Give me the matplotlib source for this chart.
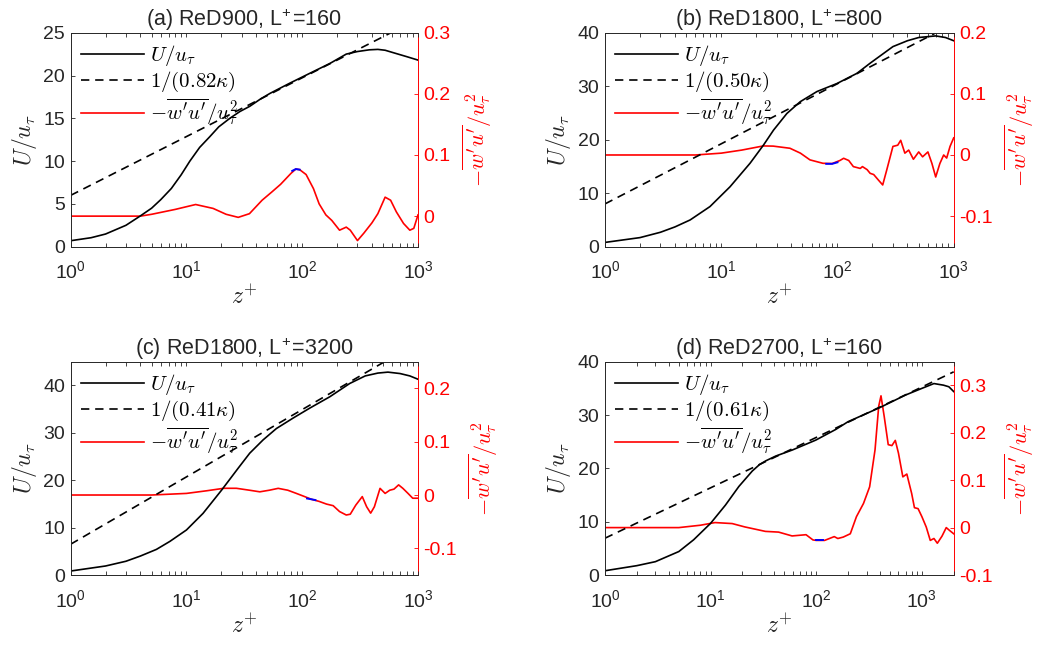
import numpy as np
import matplotlib
matplotlib.use('Agg')
import matplotlib.pyplot as plt
from matplotlib.ticker import FixedLocator, FixedFormatter, LogLocator, NullFormatter
from matplotlib.lines import Line2D

plt.rcParams['font.family'] = ['Liberation Sans', 'DejaVu Sans']
plt.rcParams['mathtext.fontset'] = 'cm'
plt.rcParams['axes.unicode_minus'] = False

# ---------------- data ----------------
titles = [r'(a) ReD900, L$^{\mathregular{+}}$=160',
          r'(b) ReD1800, L$^{\mathregular{+}}$=800',
          r'(c) ReD1800, L$^{\mathregular{+}}$=3200',
          r'(d) ReD2700, L$^{\mathregular{+}}$=160']
log_labels = [r'$1/(0.82\kappa)$', r'$1/(0.50\kappa)$', r'$1/(0.41\kappa)$', r'$1/(0.61\kappa)$']

# panel (a)
a_zU = [1, 1.5, 2, 3, 4, 5, 6, 7.4, 9, 10.7, 13, 15.9, 19, 23.7, 29, 35.2, 43, 52.5, 78, 116, 173, 240, 300, 380, 450, 520, 600, 800, 1000]
a_U  = [0.7, 1.05, 1.48, 2.5, 3.6, 4.5, 5.5, 6.8, 8.4, 10.0, 11.6, 12.85, 14.0, 15.0, 15.8, 16.4, 17.2, 17.9, 19.1, 20.25, 21.4, 22.5, 22.8, 23.0, 23.05, 22.95, 22.7, 22.2, 21.8]
a_zL = [1, 1000]
a_L  = [6.0, 26.6]
a_zR = [1, 2, 4, 5, 8, 12, 17, 22, 28, 35, 45, 55, 65, 80, 88, 95, 108, 125, 140, 160, 180, 210, 240, 260, 300, 340, 400, 450, 520, 580, 650, 750, 850, 920, 1000]
a_R  = [0, 0, 0, 0.003, 0.011, 0.019, 0.0126, 0.003, -0.002, 0.004, 0.026, 0.040, 0.052, 0.070, 0.077, 0.076, 0.068, 0.045, 0.020, 0.002, -0.007, -0.023, -0.018, -0.023, -0.040, -0.028, -0.011, 0.004, 0.031, 0.026, 0.007, -0.012, -0.023, -0.020, 0.002]
a_zB = [82, 88, 95]
a_B  = [0.074, 0.077, 0.076]

# panel (b)
b_zU = [1, 2, 3, 4, 5.4, 8, 11.9, 17.7, 23.1, 28.2, 36.7, 47.8, 66.6, 99, 147, 191, 300, 400, 500, 700, 850, 1000]
b_U  = [0.8, 1.7, 2.7, 3.7, 5.0, 7.5, 11.2, 15.6, 19.0, 21.8, 24.9, 27.1, 29.0, 30.5, 32.4, 34.3, 37.4, 38.5, 39.1, 39.4, 39.1, 38.5]
b_zL = [1, 1000]
b_L  = [8.0, 41.7]
b_zR = [1, 3, 6, 10, 15, 23, 28, 39, 48, 58, 75, 90, 105, 113, 125, 137, 157, 164, 180, 191, 205, 225, 245, 265, 300, 330, 350, 380, 410, 450, 500, 540, 600, 650, 700, 760, 820, 870, 930, 1000]
b_R  = [0, 0, 0, 0.003, 0.008, 0.0148, 0.0145, 0.011, 0.003, -0.008, -0.0136, -0.014, -0.009, -0.0054, -0.009, -0.019, -0.022, -0.019, -0.024, -0.030, -0.032, -0.041, -0.049, -0.025, 0.014, 0.016, 0.024, 0.003, 0.008, -0.007, 0.005, -0.003, 0.005, -0.014, -0.036, -0.014, 0.0, -0.005, 0.014, 0.028]
b_zB = [80, 90, 100]
b_R_blue = [-0.0145, -0.0145, -0.012]

# panel (c)
c_zU = [1, 2, 3, 4, 5.5, 7.2, 10, 13.9, 20.1, 27.9, 35.2, 45.9, 59.8, 83.3, 116, 173, 257, 350, 450, 550, 700, 850, 1000]
c_U  = [0.84, 1.9, 2.9, 4.0, 5.4, 7.1, 9.5, 13.0, 17.9, 22.5, 25.7, 28.5, 30.9, 33.1, 35.2, 37.6, 40.4, 42.0, 42.6, 42.8, 42.5, 42.0, 41.3]
c_zL = [1, 1000]
c_L  = [6.5, 49.1]
c_zR = [1, 3, 5, 10, 15, 21, 27, 35, 43, 52, 62, 75, 89, 105, 120, 140, 162, 185, 210, 240, 260, 290, 330, 360, 390, 420, 470, 520, 570, 620, 680, 740, 820, 900, 1000]
c_R  = [0, 0, 0, 0.003, 0.008, 0.0126, 0.0126, 0.009, 0.006, 0.009, 0.0125, 0.009, 0.003, -0.003, -0.008, -0.012, -0.017, -0.020, -0.031, -0.0375, -0.036, -0.019, -0.003, -0.022, -0.034, -0.022, 0.0125, 0.003, 0.009, 0.011, 0.019, 0.0125, 0.003, -0.006, -0.006]
c_zB = [110, 120, 130]
c_B  = [-0.0065, -0.008, -0.0095]

# panel (d)
d_zU = [1, 2, 3, 5, 6.9, 10, 13.8, 18.5, 24.8, 29, 33.2, 41.3, 59.5, 99, 153, 200, 400, 700, 1000, 1300, 1600, 1800, 2000]
d_U  = [0.8, 1.75, 2.5, 4.4, 6.6, 9.7, 13.1, 16.6, 19.5, 20.7, 21.4, 22.3, 23.45, 25.3, 27.3, 28.75, 31.4, 33.75, 35.0, 35.9, 35.6, 35.3, 34.4]
d_zL = [1, 2000]
d_L  = [6.9, 38.1]
d_zR = [1, 3, 5, 8, 11, 16, 21, 33, 44, 59, 80, 93, 100, 120, 148, 160, 180, 210, 240, 280, 320, 360, 390, 410, 440, 480, 520, 560, 600, 660, 720, 800, 850, 920, 1000, 1100, 1200, 1300, 1400, 1550, 1700, 1850, 2000]
d_R  = [0, 0, 0, 0.005, 0.0106, 0.0085, 0.0015, -0.008, -0.0095, -0.0176, -0.015, -0.026, -0.027, -0.027, -0.019, -0.023, -0.020, -0.013, 0.023, 0.051, 0.086, 0.164, 0.256, 0.278, 0.234, 0.175, 0.173, 0.184, 0.157, 0.107, 0.113, 0.072, 0.042, 0.040, 0.023, 0.001, -0.027, -0.023, -0.033, -0.018, 0.0, -0.007, -0.013]
d_zB = [100, 108, 116]
d_B  = [-0.027, -0.027, -0.027]

xlims = [(1, 1000), (1, 1000), (1, 1000), (1, 2000)]
ylims_left = [(0, 25), (0, 40), (0, 45), (0, 40)]
yticks_left = [[0, 5, 10, 15, 20, 25], [0, 10, 20, 30, 40], [0, 10, 20, 30, 40], [0, 10, 20, 30, 40]]
ylims_right = [(-0.05, 0.3), (-0.15, 0.2), (-0.15, 0.25), (-0.1, 0.35)]
yticks_right = [[0, 0.1, 0.2, 0.3], [-0.1, 0, 0.1, 0.2], [-0.1, 0, 0.1, 0.2], [-0.1, 0, 0.1, 0.2, 0.3]]
yticklabels_right = [['0', '0.1', '0.2', '0.3'], ['-0.1', '0', '0.1', '0.2'],
                     ['-0.1', '0', '0.1', '0.2'], ['-0.1', '0', '0.1', '0.2', '0.3']]

panels = [
    (a_zU, a_U, a_zL, a_L, a_zR, a_R, a_zB, a_B),
    (b_zU, b_U, b_zL, b_L, b_zR, b_R, b_zB, b_R_blue),
    (c_zU, c_U, c_zL, c_L, c_zR, c_R, c_zB, c_B),
    (d_zU, d_U, d_zL, d_L, d_zR, d_R, d_zB, d_B),
]

# ---------------- layout ----------------
W, H = 1037, 645
fig = plt.figure(figsize=(W / 100, H / 100), dpi=100)
boxes_px = [(70.7, 32.7, 418, 246.7), (605, 32.7, 953.7, 246.7),
            (70.7, 361.7, 418, 575), (605, 361.7, 953.7, 575)]

dark = '#262626'
red = '#ff0000'
fs = 14

for i, (zU, U, zL, L, zR, R, zB, B) in enumerate(panels):
    x0, y0, x1, y1 = boxes_px[i]
    ax = fig.add_axes([x0 / W, 1 - y1 / H, (x1 - x0) / W, (y1 - y0) / H])
    ax2 = ax.twinx()
    ax.set_zorder(ax2.get_zorder() + 1)
    ax.patch.set_visible(False)

    l1, = ax.plot(zU, U, color='k', lw=1.2)
    l2, = ax.plot(zL, L, color='k', lw=1.2, ls=(0, (5, 3.5)))
    ax2.plot(zR, R, color=red, lw=1.2)
    ax2.plot(zB, B, color='#0000ff', lw=1.4)
    l3 = Line2D([], [], color=red, lw=1.2)

    ax.set_xscale('log')
    ax.set_xlim(*xlims[i])
    ax.set_ylim(*ylims_left[i])
    ax.set_yticks(yticks_left[i])
    ax2.set_ylim(*ylims_right[i])
    ax2.yaxis.set_major_locator(FixedLocator(yticks_right[i]))
    ax2.yaxis.set_major_formatter(FixedFormatter(yticklabels_right[i]))

    ax.xaxis.set_major_locator(LogLocator(base=10, numticks=10))
    ax.xaxis.set_minor_locator(LogLocator(base=10, subs=np.arange(2, 10), numticks=20))
    ax.xaxis.set_minor_formatter(NullFormatter())

    ax.tick_params(axis='x', which='both', direction='in', top=True, labelsize=fs,
                   colors=dark, length=3, width=0.6, pad=10)
    ax.tick_params(axis='y', which='both', direction='in', right=False, labelsize=fs,
                   colors=dark, length=3, width=0.6, pad=4)
    ax2.tick_params(axis='y', which='both', direction='in', labelsize=fs,
                    colors=red, length=3, width=0.6, pad=4)
    for s in ['top', 'bottom', 'left']:
        ax.spines[s].set_color(dark)
        ax.spines[s].set_linewidth(0.7)
    ax.spines['right'].set_visible(False)
    ax2.spines['right'].set_color(red)
    ax2.spines['right'].set_linewidth(0.7)
    for s in ['top', 'bottom', 'left']:
        ax2.spines[s].set_visible(False)

    ax.set_title(titles[i], fontsize=15.5, color=dark, pad=5)
    ax.set_xlabel(r'$z^{+}$', fontsize=17, color=dark, labelpad=2)
    ax.set_ylabel(r'$U/u_{\tau}$', fontsize=17, color=dark, labelpad=3)
    ax2.set_ylabel(r"$-\overline{w'u'}/u_{\tau}^{2}$", fontsize=16, color=red,
                   rotation=90, labelpad=7)

    ax.legend([l1, l2, l3], [r'$U/u_{\tau}$', log_labels[i], r"$-\overline{w'u'}/u_{\tau}^{2}$"],
              loc='upper left', frameon=False, fontsize=15, handlelength=3.0,
              labelspacing=0.1, borderaxespad=0.2, borderpad=0.3, handletextpad=0.3)

fig.savefig('out.png', dpi=100)
